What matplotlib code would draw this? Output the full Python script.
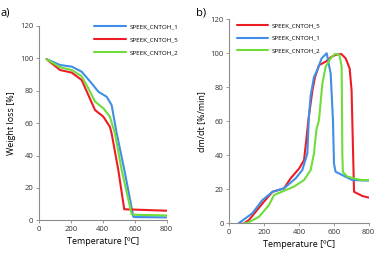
import matplotlib
matplotlib.use('Agg')
import matplotlib.pyplot as plt

plt.rcParams['font.family'] = ['Open Sans', 'DejaVu Sans']

BLUE = '#3f8fe6'
RED = '#ee1c25'
GREEN = '#6fdc3c'

# a) TGA weight loss
ta_1 = [48, 132, 205, 267, 330, 372, 424, 455, 487, 539, 591, 600, 800]
wa_1 = [99.5, 95.9, 94.9, 91.8, 84.6, 79.4, 76.3, 71.2, 53.7, 29, 2.2, 2.0, 1.8]
ta_5 = [48, 132, 205, 267, 309, 351, 403, 444, 455, 497, 534, 600, 800]
wa_5 = [99.5, 92.8, 91.2, 86.7, 77.4, 68.1, 64, 57.8, 53.7, 31, 6.8, 6.6, 5.9]
ta_2 = [48, 132, 205, 267, 309, 351, 403, 444, 476, 518, 581, 600, 800]
wa_2 = [99.5, 94.5, 92.8, 89, 81.5, 73.3, 69.2, 64, 53.7, 31, 3.7, 3.4, 3.0]

# b) DTG
tb_5 = [56, 80, 113, 191, 248, 314, 352, 400, 429, 442, 454, 477, 492, 515, 553, 582,
        610, 643, 668, 691, 702, 706, 716, 764, 800]
db_5 = [0, -0.5, 1.8, 11.6, 18.4, 20.4, 26.3, 32, 37, 49, 60.7, 78, 86, 93, 95, 97.6,
        99, 99.6, 97, 91, 78, 60.7, 18.4, 15.9, 15]
tb_1 = [56, 132, 190, 248, 314, 381, 419, 448, 457, 467, 486, 505, 530, 559, 582, 595,
        601, 610, 706, 800]
db_1 = [0, 5.7, 13.5, 18.4, 20.4, 26.3, 31.2, 41, 62.6, 75, 86, 90, 97, 100, 88, 60.7,
        35, 30.2, 25.3, 25]
tb_2 = [86, 103, 171, 228, 257, 324, 371, 429, 467, 486, 500, 515, 534, 553, 582, 607,
        632, 645, 649, 652, 678, 754, 800]
db_2 = [0, 0, 3.7, 10.6, 16.5, 19.4, 21.4, 25.3, 31.2, 41, 55, 60.7, 82, 92, 97, 99.6,
        99, 92, 40, 30, 27.3, 25.3, 25.3]

fig = plt.figure(figsize=(3.76, 2.54), dpi=100)
ax1 = fig.add_axes([0.1037, 0.1327, 0.3396, 0.765])
ax2 = fig.add_axes([0.6098, 0.122, 0.3707, 0.802])


def style(ax):
    for s in ['top', 'right']:
        ax.spines[s].set_visible(False)
    for s in ['left', 'bottom']:
        ax.spines[s].set_color('#8c8c8c')
        ax.spines[s].set_linewidth(0.8)
    ax.set_xlim(0, 800)
    ax.set_ylim(0, 120)
    ax.set_xticks([0, 200, 400, 600, 800])
    ax.set_yticks(range(0, 121, 20))
    ax.tick_params(labelsize=5.5, colors='#8c8c8c', labelcolor='#333333',
                   length=2, width=0.6, pad=2)


kw = dict(lw=1.5, solid_joinstyle='round', solid_capstyle='round')
ax1.plot(ta_1, wa_1, color=BLUE, label='SPEEK_CNTOH_1', **kw)
ax1.plot(ta_5, wa_5, color=RED, label='SPEEK_CNTOH_5', **kw)
ax1.plot(ta_2, wa_2, color=GREEN, label='SPEEK_CNTOH_2', **kw)
style(ax1)
ax1.set_xlabel('Temperature [\u00baC]', fontsize=6.5, labelpad=3)
ax1.set_ylabel('Weight loss [%]', fontsize=6.5, labelpad=3)
ax1.legend(loc='upper left', bbox_to_anchor=(0.39, 1.04), frameon=False,
           fontsize=4.5, handlelength=5.1, handletextpad=0.5, labelspacing=1.2)

ax2.plot(tb_5, db_5, color=RED, label='SPEEK_CNTOH_5', **kw)
ax2.plot(tb_1, db_1, color=BLUE, label='SPEEK_CNTOH_1', **kw)
ax2.plot(tb_2, db_2, color=GREEN, label='SPEEK_CNTOH_2', **kw)
style(ax2)
ax2.set_xlabel('Temperature [\u00baC]', fontsize=6.5, labelpad=3)
ax2.set_ylabel('dm/dt [%/min]', fontsize=6.5, labelpad=3)
ax2.legend(loc='upper left', bbox_to_anchor=(0.012, 1.01), frameon=False,
           fontsize=4.5, handlelength=5.1, handletextpad=0.5, labelspacing=1.15)

fig.text(0.002, 0.97, 'a)', fontsize=8, va='top')
fig.text(0.522, 0.97, 'b)', fontsize=8, va='top')

fig.savefig('out.png', dpi=100)
